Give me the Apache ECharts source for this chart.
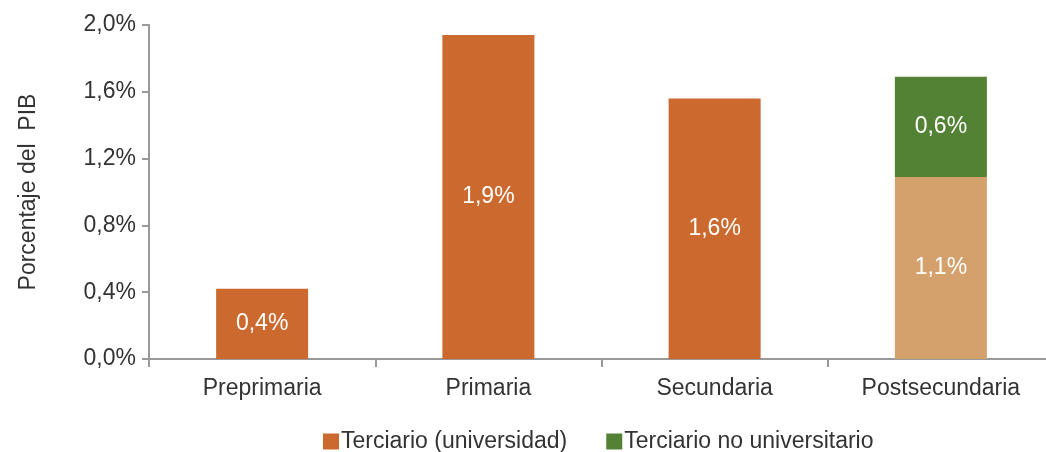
<!DOCTYPE html>
<html>
<head>
<meta charset="utf-8">
<script src="https://cdn.jsdelivr.net/npm/echarts@6/dist/echarts.min.js"></script>
<style>
    html, body { margin: 0; padding: 0; background: #fff; }
    #chart { width: 1046px; height: 452px; }
</style>
</head>
<body>
<div id="chart"></div>
<script>
// 数据
const categories = ['Preprimaria', 'Primaria', 'Secundaria', 'Postsecundaria'];
const universidad = [0.42, 1.94, 1.56, 1.09];
const noUniversitario = [null, null, null, 0.60];
const yTicks = [0, 0.4, 0.8, 1.2, 1.6, 2.0];

const FONT = '"Liberation Sans", Arial, sans-serif';

function fmt(v) {
    return v.toFixed(1).replace('.', ',') + '%';
}

const chart = echarts.init(document.getElementById('chart'));

const option = {
    animation: false,
    textStyle: { fontFamily: FONT },
    grid: {
        left: 149,
        width: 905,
        top: 25,
        height: 334,
        outerBoundsMode: 'none'
    },
    legend: {
        left: 318,
        top: 425,
        itemWidth: 16,
        itemHeight: 16,
        itemGap: 39,
        icon: 'rect',
        textStyle: { fontSize: 23, color: '#333', fontFamily: FONT, padding: [0, 0, 0, -3] },
        data: ['Terciario (universidad)', 'Terciario no universitario']
    },
    xAxis: {
        type: 'category',
        data: categories,
        axisLine: { lineStyle: { color: '#999', width: 2 } },
        axisTick: { show: true, length: 8, lineStyle: { color: '#999', width: 2 } },
        axisLabel: { fontSize: 23, color: '#333', margin: 18, fontFamily: FONT }
    },
    yAxis: {
        type: 'value',
        min: yTicks[0],
        max: yTicks[yTicks.length - 1],
        interval: 0.4,
        name: 'Porcentaje del  PIB',
        nameLocation: 'middle',
        nameGap: 109,
        nameTextStyle: { fontSize: 23, color: '#333', fontFamily: FONT },
        axisLine: { show: true, lineStyle: { color: '#999', width: 2 } },
        axisTick: { show: true, length: 7, lineStyle: { color: '#999', width: 2 } },
        splitLine: { show: false },
        axisLabel: {
            fontSize: 23,
            color: '#333',
            margin: 13,
            fontFamily: FONT,
            formatter: function (v) { return fmt(v); }
        }
    },
    series: [
        {
            name: 'Terciario (universidad)',
            type: 'bar',
            stack: 'total',
            barWidth: 92,
            itemStyle: { color: '#CC692F' },
            data: universidad.map(function (v, i) {
                return i === 3 ? { value: v, itemStyle: { color: '#D4A06B' } } : v;
            }),
            label: {
                show: true,
                position: 'inside',
                color: '#fff',
                fontSize: 23,
                fontFamily: FONT,
                formatter: function (p) { return fmt(p.value); }
            }
        },
        {
            name: 'Terciario no universitario',
            type: 'bar',
            stack: 'total',
            barWidth: 92,
            itemStyle: { color: '#548235' },
            data: noUniversitario,
            label: {
                show: true,
                position: 'inside',
                color: '#fff',
                fontSize: 23,
                fontFamily: FONT,
                formatter: function (p) { return p.value == null ? '' : fmt(p.value); }
            }
        }
    ]
};

chart.setOption(option);
</script>
</body>
</html>
